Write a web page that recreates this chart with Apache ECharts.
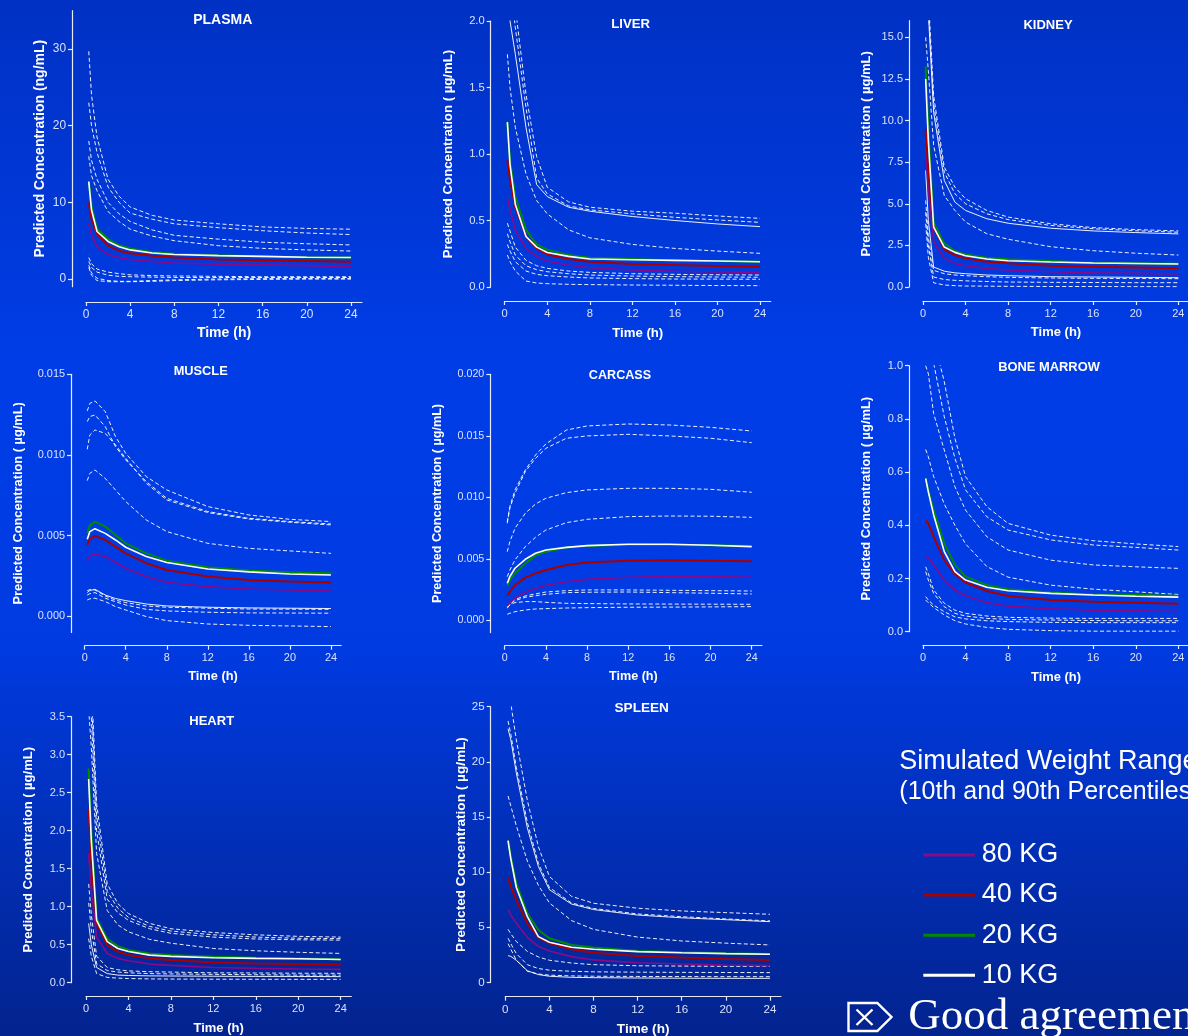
<!DOCTYPE html>
<html><head><meta charset="utf-8"><title>Predicted Concentration vs Time</title>
<script src="https://cdn.jsdelivr.net/npm/echarts@6.0.0/dist/echarts.min.js"></script>
<style>
html,body{margin:0;padding:0;width:1188px;height:1036px;overflow:hidden;background:#0338c8;}
#chart{width:1188px;height:1036px;}
</style></head><body><div id="chart"></div>
<script>
// ---------------- DATA ----------------
const TIME = [0.25, 0.5, 1, 2, 3, 4, 6, 8, 12, 16, 20, 24];
const X_TICKS = [0, 4, 8, 12, 16, 20, 24];
const WEIGHTS = ['80 KG', '40 KG', '20 KG', '10 KG'];

// mean curves, rows in WEIGHTS order
const PLASMA_MEAN = [
  [7.2, 5.8, 4.2, 3.2, 2.8, 2.55, 2.3, 2.1, 1.95, 1.85, 1.75, 1.6],
  [10.0, 7.8, 5.9, 4.35, 3.7, 3.35, 3.05, 2.8, 2.55, 2.45, 2.35, 2.25],
  [12.8, 9.5, 6.6, 5.2, 4.4, 4.0, 3.5, 3.3, 3.1, 2.95, 2.85, 2.8],
  [12.7, 9.0, 6.2, 4.9, 4.2, 3.8, 3.4, 3.2, 3.05, 2.95, 2.85, 2.8]
];
const PLASMA_PCTL = [
  [29.7, 24, 18.5, 13, 10.8, 9.4, 8.3, 7.7, 7.2, 6.8, 6.6, 6.5],
  [23, 20, 16.5, 12, 10, 8.6, 7.8, 7.2, 6.7, 6.3, 6.0, 5.8],
  [18, 15.5, 13, 10, 8.5, 7.5, 6.4, 5.7, 5.2, 4.8, 4.6, 4.45],
  [16, 13.5, 11.5, 8.8, 7.5, 6.5, 5.6, 5.0, 4.35, 4.0, 3.8, 3.65],
  [2.8, 2.0, 1.3, 0.9, 0.7, 0.55, 0.45, 0.4, 0.35, 0.3, 0.3, 0.3],
  [2.3, 1.5, 0.9, 0.5, 0.35, 0.3, 0.25, 0.2, 0.2, 0.2, 0.2, 0.2],
  [1.8, 0.8, 0.1, -0.2, -0.3, -0.3, -0.2, -0.1, 0.0, 0.05, 0.05, 0.05],
  [1.5, 0.5, -0.2, -0.35, -0.35, -0.35, -0.3, -0.2, -0.1, -0.05, 0, 0]
];

const LIVER_MEAN = [
  [0.67, 0.58, 0.43, 0.29, 0.23, 0.195, 0.165, 0.145, 0.128, 0.118, 0.113, 0.11],
  [0.955, 0.8, 0.6, 0.38, 0.29, 0.245, 0.21, 0.19, 0.173, 0.165, 0.158, 0.153],
  [1.24, 0.95, 0.68, 0.43, 0.32, 0.28, 0.24, 0.22, 0.21, 0.2, 0.195, 0.19],
  [1.24, 0.92, 0.62, 0.38, 0.30, 0.26, 0.23, 0.21, 0.205, 0.2, 0.195, 0.19]
];
const LIVER_PCTL = [
  [2.6, 2.5, 2.1, 1.45, 0.98, 0.75, 0.64, 0.6, 0.57, 0.555, 0.534, 0.516],
  [2.4, 2.3, 1.95, 1.35, 0.82, 0.7, 0.61, 0.58, 0.55, 0.524, 0.504, 0.486],
  [2.2, 2.0, 1.75, 1.2, 0.77, 0.68, 0.6, 0.57, 0.53, 0.5, 0.474, 0.454],
  [1.75, 1.5, 1.2, 0.85, 0.65, 0.55, 0.43, 0.37, 0.32, 0.29, 0.27, 0.253],
  [0.48, 0.42, 0.3, 0.2, 0.16, 0.14, 0.12, 0.11, 0.1, 0.095, 0.092, 0.09],
  [0.4, 0.34, 0.24, 0.16, 0.13, 0.115, 0.1, 0.09, 0.082, 0.078, 0.075, 0.073],
  [0.32, 0.27, 0.19, 0.12, 0.095, 0.085, 0.075, 0.068, 0.063, 0.06, 0.059, 0.058],
  [0.24, 0.19, 0.12, 0.045, 0.03, 0.025, 0.02, 0.018, 0.015, 0.013, 0.011, 0.01]
];

const KIDNEY_MEAN = [
  [8.3, 5.9, 2.72, 1.72, 1.42, 1.28, 1.12, 1.02, 0.92, 0.86, 0.82, 0.78],
  [9.5, 7.0, 3.57, 2.26, 1.92, 1.72, 1.52, 1.42, 1.28, 1.22, 1.17, 1.12],
  [13.25, 9.5, 3.87, 2.62, 2.16, 1.96, 1.76, 1.66, 1.56, 1.46, 1.43, 1.4],
  [12.5, 8.8, 3.6, 2.4, 2.08, 1.88, 1.68, 1.58, 1.5, 1.44, 1.41, 1.38]
];
const KIDNEY_PCTL = [
  [20, 17.5, 11.5, 7.2, 6.0, 5.3, 4.6, 4.2, 3.8, 3.57, 3.45, 3.37],
  [19.5, 17, 11, 6.9, 5.6, 5.0, 4.4, 4.05, 3.7, 3.5, 3.38, 3.29],
  [18.5, 16.5, 10.5, 6.4, 5.1, 4.6, 4.1, 3.83, 3.53, 3.37, 3.27, 3.19],
  [15, 13, 8.5, 5.5, 4.6, 3.9, 3.2, 2.87, 2.42, 2.18, 2.03, 1.92],
  [7.0, 4.0, 1.2, 0.95, 0.85, 0.8, 0.72, 0.68, 0.62, 0.6, 0.58, 0.56],
  [5.2, 3.0, 1.0, 0.8, 0.72, 0.68, 0.62, 0.58, 0.54, 0.52, 0.51, 0.5],
  [4.5, 2.5, 0.6, 0.45, 0.4, 0.37, 0.33, 0.3, 0.28, 0.27, 0.26, 0.26],
  [3.8, 1.8, 0.25, 0.12, 0.08, 0.06, 0.05, 0.04, 0.03, 0.03, 0.02, 0.02]
];

const MUSCLE_MEAN = [
  [0.00345, 0.00374, 0.00386, 0.0037, 0.00335, 0.00298, 0.00246, 0.00211, 0.00184, 0.00169, 0.00163, 0.00157],
  [0.00442, 0.00479, 0.00498, 0.00473, 0.00432, 0.0039, 0.00329, 0.00287, 0.00246, 0.00225, 0.00215, 0.00209],
  [0.00514, 0.00562, 0.00587, 0.00556, 0.00504, 0.00452, 0.0039, 0.00345, 0.00304, 0.00283, 0.00273, 0.00267],
  [0.00477, 0.00525, 0.00543, 0.00514, 0.00473, 0.00428, 0.0037, 0.00333, 0.00293, 0.00275, 0.00262, 0.00256]
];
const MUSCLE_PCTL = [
  [0.01273, 0.0132, 0.01335, 0.01269, 0.01114, 0.0101, 0.00866, 0.00783, 0.0068, 0.00628, 0.00601, 0.00587],
  [0.01207, 0.01238, 0.01248, 0.01176, 0.01052, 0.00969, 0.00835, 0.00731, 0.00649, 0.00607, 0.00587, 0.00572],
  [0.01035, 0.01124, 0.01155, 0.01134, 0.01062, 0.00979, 0.00824, 0.00721, 0.00643, 0.00603, 0.00583, 0.00566],
  [0.00841, 0.00886, 0.00907, 0.00855, 0.00783, 0.00711, 0.00597, 0.00525, 0.00452, 0.00421, 0.00405, 0.0039],
  [0.00147, 0.0016, 0.00167, 0.00132, 0.0011, 0.00097, 0.00076, 0.00064, 0.00056, 0.00052, 0.0005, 0.00048],
  [0.00159, 0.00165, 0.00163, 0.00126, 0.001, 0.00085, 0.00064, 0.00056, 0.0005, 0.00045, 0.00044, 0.00043],
  [0.00132, 0.0014, 0.00147, 0.00112, 0.0009, 0.0007, 0.00043, 0.00033, 0.00025, 0.00021, 0.0002, 0.00019],
  [0.00101, 0.00108, 0.00112, 0.00091, 0.0006, 0.00039, -0.00002, -0.00027, -0.00048, -0.00056, -0.0006, -0.00064]
];

const CARCASS_MEAN = [
  [0.00117, 0.00144, 0.00179, 0.00228, 0.0026, 0.00285, 0.00314, 0.00333, 0.0035, 0.00355, 0.00355, 0.0035],
  [0.002, 0.00233, 0.00287, 0.00347, 0.00382, 0.00409, 0.0045, 0.00469, 0.00485, 0.00488, 0.00485, 0.0048],
  [0.00279, 0.00328, 0.00382, 0.00463, 0.00526, 0.00558, 0.00591, 0.00604, 0.00615, 0.00612, 0.0061, 0.00604],
  [0.00301, 0.00355, 0.00423, 0.00496, 0.00545, 0.00572, 0.00593, 0.00607, 0.00618, 0.00618, 0.0061, 0.00599]
];
const CARCASS_PCTL = [
  [0.00802, 0.00924, 0.0106, 0.01222, 0.01344, 0.01434, 0.01547, 0.0158, 0.01596, 0.01588, 0.01569, 0.01539],
  [0.00789, 0.00911, 0.01033, 0.01209, 0.01317, 0.01398, 0.0148, 0.01499, 0.01512, 0.01499, 0.0148, 0.01444],
  [0.00558, 0.0064, 0.00748, 0.0087, 0.00946, 0.00992, 0.01038, 0.0106, 0.01073, 0.01073, 0.01065, 0.01041],
  [0.00355, 0.00409, 0.00491, 0.00599, 0.00675, 0.00734, 0.00794, 0.00821, 0.00843, 0.00848, 0.00846, 0.00837],
  [0.00111, 0.0014, 0.00171, 0.00198, 0.00215, 0.0023, 0.00241, 0.00247, 0.00247, 0.00244, 0.00241, 0.00238],
  [0.00098, 0.0013, 0.0016, 0.00187, 0.002, 0.00211, 0.00225, 0.00228, 0.0023, 0.00225, 0.0022, 0.00214],
  [0.00106, 0.00125, 0.00144, 0.00152, 0.00152, 0.00146, 0.00138, 0.00136, 0.00133, 0.00132, 0.00131, 0.0013],
  [0.00049, 0.00057, 0.0007, 0.00084, 0.00092, 0.00095, 0.001, 0.00103, 0.00106, 0.00107, 0.00109, 0.00111]
];

const BONE_MARROW_MEAN = [
  [0.284, 0.279, 0.251, 0.194, 0.157, 0.135, 0.11, 0.096, 0.086, 0.081, 0.079, 0.076],
  [0.417, 0.407, 0.357, 0.269, 0.217, 0.185, 0.153, 0.134, 0.119, 0.113, 0.109, 0.105],
  [0.576, 0.533, 0.457, 0.332, 0.251, 0.207, 0.175, 0.16, 0.147, 0.14, 0.138, 0.135],
  [0.576, 0.526, 0.439, 0.301, 0.226, 0.194, 0.167, 0.154, 0.144, 0.138, 0.133, 0.13]
];
const BONE_MARROW_PCTL = [
  [1.4, 1.3, 1.1, 0.94, 0.727, 0.583, 0.47, 0.407, 0.363, 0.342, 0.33, 0.32],
  [1.25, 1.15, 1.01, 0.808, 0.652, 0.533, 0.432, 0.382, 0.345, 0.326, 0.317, 0.307],
  [1.0, 0.97, 0.82, 0.683, 0.545, 0.457, 0.357, 0.307, 0.269, 0.251, 0.244, 0.238],
  [0.685, 0.658, 0.583, 0.48, 0.4, 0.33, 0.245, 0.205, 0.175, 0.16, 0.15, 0.14],
  [0.244, 0.219, 0.157, 0.107, 0.081, 0.069, 0.059, 0.054, 0.051, 0.05, 0.05, 0.05],
  [0.226, 0.194, 0.144, 0.094, 0.069, 0.059, 0.05, 0.046, 0.044, 0.042, 0.041, 0.041],
  [0.132, 0.119, 0.1, 0.075, 0.056, 0.048, 0.041, 0.038, 0.035, 0.034, 0.034, 0.034],
  [0.119, 0.109, 0.091, 0.063, 0.041, 0.029, 0.016, 0.009, 0.004, 0.002, 0.002, 0.002]
];

const HEART_MEAN = [
  [1.7, 1.22, 0.6, 0.385, 0.32, 0.289, 0.245, 0.228, 0.2, 0.188, 0.18, 0.175],
  [2.29, 1.57, 0.78, 0.495, 0.41, 0.363, 0.32, 0.298, 0.267, 0.254, 0.245, 0.24],
  [2.82, 2.0, 0.845, 0.58, 0.48, 0.43, 0.385, 0.363, 0.342, 0.328, 0.32, 0.31],
  [2.68, 1.87, 0.82, 0.54, 0.45, 0.41, 0.363, 0.346, 0.328, 0.32, 0.315, 0.306]
];
const HEART_PCTL = [
  [4.5, 4.0, 2.36, 1.3, 1.04, 0.91, 0.78, 0.71, 0.66, 0.63, 0.61, 0.6],
  [4.3, 3.8, 2.2, 1.2, 0.98, 0.86, 0.74, 0.68, 0.63, 0.6, 0.585, 0.58],
  [4.0, 3.5, 2.0, 1.1, 0.92, 0.82, 0.71, 0.65, 0.6, 0.575, 0.565, 0.56],
  [3.6, 3.1, 1.7, 0.95, 0.76, 0.67, 0.57, 0.52, 0.45, 0.42, 0.4, 0.385],
  [1.3, 0.9, 0.35, 0.2, 0.17, 0.155, 0.145, 0.14, 0.13, 0.128, 0.125, 0.123],
  [1.05, 0.7, 0.25, 0.16, 0.14, 0.13, 0.12, 0.115, 0.11, 0.105, 0.1, 0.1],
  [0.78, 0.5, 0.2, 0.12, 0.1, 0.095, 0.09, 0.088, 0.085, 0.083, 0.082, 0.08],
  [0.58, 0.35, 0.12, 0.07, 0.06, 0.055, 0.05, 0.048, 0.046, 0.045, 0.044, 0.044]
];

const SPLEEN_MEAN = [
  [6.56, 6.11, 5.35, 4.08, 3.24, 2.84, 2.33, 2.03, 1.78, 1.66, 1.57, 1.51],
  [9.5, 8.68, 7.47, 5.35, 4.08, 3.54, 3.0, 2.69, 2.39, 2.24, 2.12, 2.03],
  [12.86, 11.4, 8.98, 6.26, 4.75, 3.99, 3.39, 3.15, 2.84, 2.72, 2.63, 2.57],
  [12.86, 11.2, 8.6, 5.96, 4.14, 3.63, 3.18, 3.0, 2.78, 2.68, 2.6, 2.54]
];
const SPLEEN_PCTL = [
  [25.5, 25.3, 22, 16.5, 12.3, 9.6, 7.8, 7.17, 6.72, 6.47, 6.32, 6.17],
  [23.7, 22.5, 19.5, 14.5, 10.8, 8.6, 7.2, 6.7, 6.2, 5.95, 5.75, 5.57],
  [23.0, 22.0, 19.0, 14.0, 10.5, 8.4, 7.1, 6.6, 6.1, 5.85, 5.68, 5.5],
  [16.9, 16.0, 14.2, 11.0, 8.8, 7.2, 5.6, 4.8, 4.1, 3.75, 3.55, 3.39],
  [4.8, 4.4, 3.7, 2.8, 2.3, 2.0, 1.75, 1.6, 1.5, 1.47, 1.45, 1.45],
  [4.0, 3.5, 2.6, 1.6, 1.25, 1.1, 1.0, 0.95, 0.92, 0.9, 0.89, 0.88],
  [3.5, 3.0, 2.0, 1.0, 0.75, 0.65, 0.58, 0.55, 0.53, 0.52, 0.51, 0.51],
  [2.42, 2.35, 2.0, 1.05, 0.7, 0.55, 0.45, 0.42, 0.39, 0.37, 0.36, 0.36]
];

const PLASMA_TICKS = [0, 10, 20, 30];
const LIVER_TICKS = [0, 0.5, 1.0, 1.5, 2.0];
const KIDNEY_TICKS = [0, 2.5, 5, 7.5, 10, 12.5, 15];
const MUSCLE_TICKS = [0, 0.005, 0.010, 0.015];
const CARCASS_TICKS = [0, 0.005, 0.010, 0.015, 0.020];
const BONE_MARROW_TICKS = [0, 0.2, 0.4, 0.6, 0.8, 1.0];
const HEART_TICKS = [0, 0.5, 1.0, 1.5, 2.0, 2.5, 3.0, 3.5];
const SPLEEN_TICKS = [0, 5, 10, 15, 20, 25];

// ---------------- LAYOUT / STYLE ----------------
const UG = 'Predicted Concentration ( \u00b5g/mL)';
const PANELS = [
  {title:'PLASMA', yName:'Predicted Concentration (ng/mL)', mean:PLASMA_MEAN, pctl:PLASMA_PCTL, ticks:PLASMA_TICKS, dec:0, yMin:-1, yMax:35,
   left:86, top:10.7, width:276, height:276, yOff:14, xOff:15.3, yGap:25, xGap:24, tx:222.7, ty:20, fs:14, solid:[]},
  {title:'LIVER', yName:UG, mean:LIVER_MEAN, pctl:LIVER_PCTL, ticks:LIVER_TICKS, dec:1, yMin:0, yMax:2,
   left:504.7, top:21, width:266, height:266, yOff:14, xOff:14, yGap:36, xGap:25.4, tx:630.7, ty:24.3, fs:13.2, solid:[2]},
  {title:'KIDNEY', yName:UG, mean:KIDNEY_MEAN, pctl:KIDNEY_PCTL, ticks:KIDNEY_TICKS, dec:1, yMin:0, yMax:16,
   left:923, top:20.7, width:266, height:266.3, yOff:14, xOff:14, yGap:36, xGap:25.4, tx:1048, ty:25, fs:13, solid:[2,4]},
  {title:'MUSCLE', yName:UG, mean:MUSCLE_MEAN, pctl:MUSCLE_PCTL, ticks:MUSCLE_TICKS, dec:3, yMin:-0.001, yMax:0.015,
   left:84.7, top:374.3, width:256.5, height:258.1, yOff:13.7, xOff:13.3, yGap:45.7, xGap:24.6, tx:200.7, ty:371.7, fs:12.8, solid:[4]},
  {title:'CARCASS', yName:UG, mean:CARCASS_MEAN, pctl:CARCASS_PCTL, ticks:CARCASS_TICKS, dec:3, yMin:-0.001, yMax:0.020,
   left:504.7, top:374.3, width:257.3, height:258.3, yOff:14.4, xOff:13.1, yGap:46.6, xGap:24.7, tx:620, ty:376, fs:12.6, solid:[]},
  {title:'BONE MARROW', yName:UG, mean:BONE_MARROW_MEAN, pctl:BONE_MARROW_PCTL, ticks:BONE_MARROW_TICKS, dec:1, yMin:0, yMax:1,
   left:923, top:365.7, width:266, height:266, yOff:14, xOff:13.3, yGap:36, xGap:26, tx:1049, ty:367.3, fs:12.9, solid:[]},
  {title:'HEART', yName:UG, mean:HEART_MEAN, pctl:HEART_PCTL, ticks:HEART_TICKS, dec:1, yMin:0, yMax:3.5,
   left:86, top:716.7, width:265.3, height:266, yOff:15, xOff:13.3, yGap:35.7, xGap:25.8, tx:211.7, ty:721, fs:13, solid:[6]},
  {title:'SPLEEN', yName:UG, mean:SPLEEN_MEAN, pctl:SPLEEN_PCTL, ticks:SPLEEN_TICKS, dec:0, yMin:0, yMax:25,
   left:505.3, top:706.7, width:275.7, height:275.6, yOff:14.6, xOff:14.4, yGap:22.7, xGap:25.8, tx:641.7, ty:708.3, fs:13.6, solid:[2,7]}
];

const WEIGHT_STYLE = [
  {color:'#880a88', width:1.6},
  {color:'#a80000', width:2},
  {color:'#008a00', width:2},
  {color:'#ffffff', width:1.6}
];
const DRAW_ORDER = [0, 1, 2, 3];
const FONT = '"Liberation Sans", Arial, Helvetica, sans-serif';
const AXIS_COLOR = 'rgba(255,255,255,0.9)';
const LABEL_COLOR = 'rgba(235,240,255,0.92)';

// ---------------- BUILD ----------------
const grid = [], xAxis = [], yAxis = [], series = [], graphic = [];
const pairs = arr => TIME.map((t, k) => [t, arr[k]]);

PANELS.forEach((p, i) => {
  const lblSize = Math.round(p.fs * 0.85 * 10) / 10;
  grid.push({left:p.left, top:p.top, width:p.width, height:p.height, containLabel:false, outerBoundsMode:'none'});
  xAxis.push({
    type:'value', gridIndex:i, min:0, max:25, offset:p.xOff,
    name:'Time (h)', nameLocation:'middle', nameGap:p.xGap, nameMoveOverlap:false,
    nameTextStyle:{color:'#ffffff', fontWeight:'bold', fontSize:p.fs, fontFamily:FONT},
    axisLine:{show:true, onZero:false, lineStyle:{color:AXIS_COLOR, width:1.2}},
    axisTick:{show:true, length:4, inside:false, customValues:X_TICKS, lineStyle:{color:AXIS_COLOR, width:1.2}},
    axisLabel:{show:true, customValues:X_TICKS, margin:7, color:LABEL_COLOR, fontSize:lblSize, fontFamily:FONT, hideOverlap:false},
    splitLine:{show:false}
  });
  yAxis.push({
    type:'value', gridIndex:i, min:p.yMin, max:p.yMax, offset:p.yOff,
    name:p.yName, nameLocation:'middle', nameGap:p.yGap, nameRotate:90, nameMoveOverlap:false,
    nameTextStyle:{color:'#ffffff', fontWeight:'bold', fontSize:p.fs, fontFamily:FONT},
    axisLine:{show:true, onZero:false, lineStyle:{color:AXIS_COLOR, width:1.2}},
    axisTick:{show:true, length:4, inside:false, customValues:p.ticks, lineStyle:{color:AXIS_COLOR, width:1.2}},
    axisLabel:{show:true, customValues:p.ticks, margin:6, color:LABEL_COLOR, fontSize:lblSize, fontFamily:FONT,
      hideOverlap:false, formatter: v => Number(v).toFixed(p.dec)},
    splitLine:{show:false}
  });
  p.pctl.forEach((row, j) => {
    const solidish = p.solid.indexOf(j) >= 0;
    series.push({
      type:'line', name:p.title + ' percentile ' + (j + 1), xAxisIndex:i, yAxisIndex:i,
      data:pairs(row), showSymbol:false, symbol:'none', silent:true, clip:true, smooth:false,
      lineStyle:{color:'rgba(255,255,255,0.92)', width:1, type: solidish ? 'solid' : [4, 2.5]},
      z:2
    });
  });
  DRAW_ORDER.forEach(w => {
    series.push({
      type:'line', name:p.title + ' ' + WEIGHTS[w], xAxisIndex:i, yAxisIndex:i,
      data:pairs(p.mean[w]), showSymbol:false, symbol:'none', silent:true, clip:true, smooth:false,
      lineStyle:{color:WEIGHT_STYLE[w].color, width:WEIGHT_STYLE[w].width, type:'solid'},
      z:3 + w
    });
  });
  graphic.push({
    type:'text', x:p.tx, y:p.ty, silent:true, z:10,
    style:{text:p.title, fill:'#ffffff', fontSize:p.fs, fontWeight:'bold', fontFamily:FONT, align:'center', verticalAlign:'middle'}
  });
});

// legend block
graphic.push({type:'text', x:899.3, y:761.5, silent:true,
  style:{text:'Simulated Weight Range', fill:'#ffffff', fontSize:27, fontFamily:FONT, align:'left', verticalAlign:'middle'}});
graphic.push({type:'text', x:899.3, y:792.5, silent:true,
  style:{text:'(10th and 90th Percentiles)', fill:'#ffffff', fontSize:25, fontFamily:FONT, align:'left', verticalAlign:'middle'}});
const LEGEND_Y = [855, 895, 935.3, 975.3];
WEIGHTS.forEach((w, k) => {
  graphic.push({type:'line', silent:true, shape:{x1:923.3, y1:LEGEND_Y[k], x2:975, y2:LEGEND_Y[k]},
    style:{stroke:k === 3 ? '#ffffff' : WEIGHT_STYLE[k].color, lineWidth:3}});
  graphic.push({type:'text', x:981.7, y:LEGEND_Y[k], silent:true,
    style:{text:w, fill:'#ffffff', fontSize:27, fontFamily:FONT, align:'left', verticalAlign:'middle'}});
});
// bullet glyph (pentagon with X)
graphic.push({type:'polygon', silent:true,
  shape:{points:[[848.5,1003],[877.3,1003],[891.5,1017],[877.3,1031],[848.5,1031]]},
  style:{fill:'none', stroke:'#ffffff', lineWidth:2.4}});
graphic.push({type:'line', silent:true, shape:{x1:856.5, y1:1009.5, x2:872.5, y2:1025}, style:{stroke:'#ffffff', lineWidth:2.4}});
graphic.push({type:'line', silent:true, shape:{x1:872.5, y1:1009.5, x2:856.5, y2:1025}, style:{stroke:'#ffffff', lineWidth:2.4}});
graphic.push({type:'text', x:908.3, y:1016.7, silent:true,
  style:{text:'Good agreement', fill:'#ffffff', fontSize:45, fontFamily:'"Liberation Serif", "Times New Roman", serif', align:'left', verticalAlign:'middle'}});

const chart = echarts.init(document.getElementById('chart'), null, {renderer:'canvas', width:1188, height:1036});
chart.setOption({
  animation:false,
  backgroundColor:{type:'linear', x:0, y:0, x2:0, y2:1, colorStops:[
    {offset:0, color:'#0031c4'}, {offset:0.35, color:'#003de6'}, {offset:0.62, color:'#003be2'}, {offset:1, color:'#03238e'}]},
  grid, xAxis, yAxis, series, graphic
});
</script></body></html>
